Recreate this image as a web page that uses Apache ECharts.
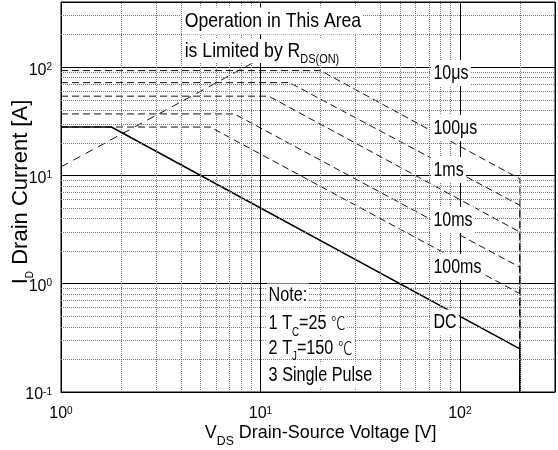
<!DOCTYPE html>
<html><head><meta charset="utf-8">
<script src="https://cdn.jsdelivr.net/npm/echarts@6/dist/echarts.min.js"></script>
<style>html,body{margin:0;padding:0;background:#fff}#c{width:558px;height:450px}</style>
</head><body><div id="c"></div>
<script>
// ---- axis ranges and grid values ----
const xRange = [1, 300];
const yRange = [0.1, 400];
const xMinorGrid = [2,3,4,5,6,7,8,9,20,30,40,50,60,70,80,90,200];
const yMinorGrid = [0.2,0.3,0.4,0.5,0.6,0.7,0.8,0.9,2,3,4,5,6,7,8,9,20,30,40,50,60,70,80,90,200,300];

// ---- curves: [V_DS, I_D] ----
const rdsLimit   = [[1,12],[9.7,116]];
const pulse10us  = [[1,93],[20,93],[200,9.3],[200,0.1]];
const pulse100us = [[1,72],[14,72],[200,5.3],[200,0.1]];
const pulse1ms   = [[1,54],[11,54],[200,3.0],[200,0.1]];
const pulse10ms  = [[1,37],[7.4,37],[200,1.42],[200,0.1]];
const pulse100ms = [[1,28],[5.6,28],[200,0.81],[200,0.1]];
const dcLimit    = [[1,28],[1.79,28],[200,0.25],[200,0.1]];

// ---- texts ----
const curveLabels = ['10\u03bcs','100\u03bcs','1ms','10ms','100ms','DC'];
const titleLine1 = 'Operation in This Area';
const titleLine2 = ['is Limited by R','DS(ON)'];
const noteLines = ['Note:', ['1 T','C','=25 ','\u2103'], ['2 T','J','=150 ','\u2103'], '3 Single Pulse'];
const xTitle = ['V','DS',' Drain-Source Voltage [V]'];
const yTitle = ['I','D',' Drain Current [A]'];

const FF = "'Liberation Sans', Arial, sans-serif";

const chart = echarts.init(document.getElementById('c'), null, {renderer:'canvas'});

function powLabel(v){
  const e = Math.log10(v), r = Math.round(e);
  if (Math.abs(e - r) > 1e-6) return '';
  return '{b|10}{s|' + r + '}';
}
const tickRich = {
  b:{fontSize:16, fontFamily:FF, color:'#000', lineHeight:16, verticalAlign:'bottom'},
  s:{fontSize:10, fontFamily:FF, color:'#000', lineHeight:10, verticalAlign:'top'}
};

const dashStyle = {color:'#111', width:1, type:[7,4]};
function curve(name, data, style){
  return {name, type:'line', data, symbol:'none', showSymbol:false, z:3,
    lineStyle:style, silent:true, animation:false};
}

function txt(x, y, text, o){
  o = o || {};
  return {type:'text', x, y, z:100, scaleX:o.sx || 1, rotation:o.rot || 0, silent:true,
    style:{text, font:(o.size||20)+'px '+FF, fill:'#000', align:o.align||'left', verticalAlign:'middle',
      backgroundColor:o.bg===false?null:'#fff', padding:o.pad||[3,3,3,3], rich:o.rich}};
}
function subRich(main, sub, P, mainLH){
  return {m:{fontSize:main, fontFamily:FF, lineHeight:mainLH, fill:'#000'},
          s:{fontSize:sub, fontFamily:FF, lineHeight:sub, padding:[P,0,0,0], fill:'#000'},
          c:{fontSize:main-2, fontFamily:"'Noto Sans CJK SC', sans-serif", fontWeight:300, lineHeight:mainLH, fill:'#000'}};
}

const labelY = [73,128,170,220,267,322.5];
const graphics = [];
graphics.push(txt(183, 21, titleLine1, {size:21, sx:0.84, pad:[3,2,3,2]}));
graphics.push(txt(183, 51, '{m|'+titleLine2[0]+'}{s|'+titleLine2[1]+'}', {size:21, sx:0.84, pad:[0,2,0,2], rich:subRich(21,13,16,24)}));
curveLabels.forEach((t,i)=>graphics.push(txt(431, labelY[i], t, {size:20, sx:0.8, pad:[3,3,3,3]})));
const noteY = [295.5, 323.5, 348, 375.5];
noteLines.forEach((l,i)=>{
  if (typeof l === 'string') graphics.push(txt(267, noteY[i], l, {size:20, sx:0.81, pad:[2,2,2,2]}));
  else graphics.push(txt(267, noteY[i], '{m|'+l[0]+'}{s|'+l[1]+'}{m|'+l[2]+'}{c|'+l[3]+'}', {size:20, sx:0.81, pad:[0,2,0,2], rich:subRich(20,12,18,22)}));
});
graphics.push(txt(202, 432.5, '{m|'+xTitle[0]+'}{s|'+xTitle[1]+'}{m|'+xTitle[2]+'}', {size:19, sx:0.945, bg:false, pad:0, rich:subRich(19,13,18,22)}));
graphics.push(txt(21, 192, '{m|'+yTitle[0]+'}{s|'+yTitle[1]+'}{m|'+yTitle[2]+'}', {size:22, rot:Math.PI/2, align:'center', bg:false, pad:0, rich:subRich(22,10,19,24)}));

const minorStyle = {color:'#7a7a7a', width:1, type:[1,1]};
const option = {
  animation:false,
  backgroundColor:'#fff',
  grid:{left:61, right:2, top:2, bottom:58, show:true, borderColor:'#000', borderWidth:1, backgroundColor:'#fff'},
  xAxis:{type:'log', logBase:10, min:xRange[0], max:xRange[1],
    axisLine:{show:true, lineStyle:{color:'#000', width:1}},
    axisTick:{show:false},
    splitLine:{show:true, lineStyle:{color:'#000', width:1}},
    axisLabel:{formatter:powLabel, rich:tickRich, margin:14, color:'#000'}},
  yAxis:{type:'log', logBase:10, min:yRange[0], max:yRange[1],
    axisLine:{show:true, lineStyle:{color:'#000', width:1}},
    axisTick:{show:false},
    splitLine:{show:true, lineStyle:{color:'#000', width:1}},
    axisLabel:{formatter:powLabel, rich:tickRich, margin:9, color:'#000', padding:[6,0,0,0]}},
  series:[
    {type:'line', data:[], z:1, silent:true, animation:false,
      markLine:{silent:true, symbol:'none', animation:false, label:{show:false}, lineStyle:minorStyle,
        emphasis:{disabled:true},
        data: xMinorGrid.map(v=>({xAxis:v})).concat(yMinorGrid.map(v=>({yAxis:v})))}},
    curve('RDS(on) limit', rdsLimit, {color:'#111', width:1, type:[8,6]}),
    curve('10us', pulse10us, dashStyle),
    curve('100us', pulse100us, dashStyle),
    curve('1ms', pulse1ms, dashStyle),
    curve('10ms', pulse10ms, dashStyle),
    curve('100ms', pulse100ms, dashStyle),
    curve('DC', dcLimit, {color:'#000', width:1.6, type:'solid'})
  ],
  graphic:{elements:graphics}
};
chart.setOption(option);
</script></body></html>
